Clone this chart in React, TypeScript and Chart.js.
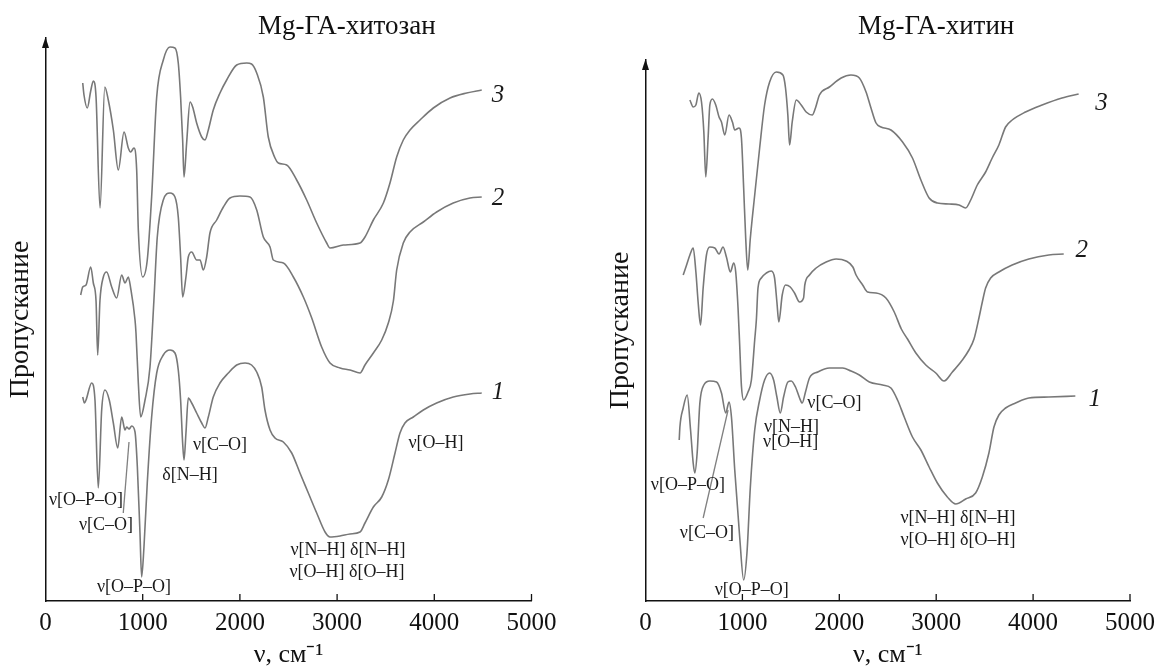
import React, { useEffect, useRef } from "react";
import { Chart, registerables } from "chart.js";

Chart.register(...registerables);

const SERIF = "'Liberation Serif', 'Times New Roman', Times, serif";

// x-axis tick values (wavenumber, cm^-1)
const xTicks = [0, 1000, 2000, 3000, 4000, 5000];

// ---------- Mg-ГА-хитозан (transmittance, arbitrary units) ----------
const chitosan1: [number, number][] = [
  [383, 204], [400, 198], [417, 201], [475, 218], [509, 201], [543, 113], [578, 191], [612, 211],
  [656, 201], [698, 178], [743, 153], [784, 184], [818, 171], [835, 174], [860, 172], [887, 175],
  [921, 169], [945, 134], [972, 68], [989, 24], [1013, 54], [1047, 118], [1092, 184], [1144, 228],
  [1212, 246], [1281, 251], [1332, 248], [1366, 231], [1390, 201], [1411, 158], [1425, 141],
  [1445, 168], [1469, 203], [1504, 198], [1555, 188], [1607, 178], [1641, 173], [1675, 184],
  [1726, 204], [1795, 218], [1881, 228], [1967, 236], [2053, 238], [2120, 236], [2173, 229],
  [2224, 214], [2258, 191], [2310, 171], [2361, 163], [2447, 159], [2533, 148], [2618, 128],
  [2704, 108], [2790, 88], [2876, 69], [2927, 64], [3030, 65], [3133, 67], [3236, 69], [3287, 78],
  [3373, 94], [3459, 104], [3527, 121], [3596, 148], [3647, 168], [3698, 178], [3784, 184],
  [3887, 191], [4024, 198], [4195, 204], [4367, 207], [4488, 208],
];

const chitosan2: [number, number][] = [
  [362, 306], [383, 314], [417, 316], [465, 334], [492, 318], [520, 300], [537, 246], [560, 300],
  [595, 324], [629, 329], [681, 314], [732, 303], [784, 326], [818, 318], [852, 324], [876, 313],
  [921, 281], [931, 268], [955, 218], [979, 184], [1024, 201], [1075, 234], [1115, 300],
  [1150, 364], [1212, 401], [1281, 408], [1332, 404], [1366, 384], [1390, 344], [1411, 304],
  [1445, 324], [1469, 344], [1504, 349], [1555, 341], [1590, 341], [1624, 331], [1658, 344],
  [1692, 368], [1761, 381], [1830, 394], [1898, 403], [2001, 405], [2104, 404], [2173, 391],
  [2241, 364], [2310, 354], [2344, 341], [2447, 338], [2550, 324], [2653, 304], [2739, 283],
  [2841, 254], [2927, 238], [3030, 233], [3133, 231], [3236, 228], [3287, 236], [3373, 248],
  [3459, 261], [3527, 278], [3579, 300], [3613, 331], [3681, 358], [3750, 369], [3887, 379],
  [4024, 389], [4195, 398], [4367, 403], [4488, 404],
];

const chitosan3: [number, number][] = [
  [383, 518], [396, 506], [430, 493], [465, 510], [492, 520], [520, 504], [561, 393], [610, 514],
  [646, 501], [698, 471], [749, 431], [808, 469], [852, 453], [876, 449], [910, 453], [938, 431],
  [955, 371], [1000, 324], [1047, 341], [1092, 404], [1144, 504], [1212, 541], [1281, 554],
  [1332, 553], [1366, 538], [1390, 504], [1411, 461], [1425, 424], [1452, 458], [1487, 499],
  [1514, 494], [1555, 478], [1607, 464], [1641, 461], [1675, 471], [1726, 491], [1795, 508],
  [1864, 521], [1967, 536], [2070, 538], [2120, 537], [2173, 528], [2241, 504], [2292, 464],
  [2361, 443], [2395, 438], [2481, 436], [2584, 421], [2687, 401], [2790, 378], [2893, 358],
  [2927, 353], [3064, 356], [3236, 358], [3287, 364], [3373, 381], [3476, 398], [3544, 418],
  [3613, 444], [3681, 461], [3750, 471], [3853, 481], [3990, 493], [4162, 503], [4333, 508],
  [4488, 511],
];

// ---------- Mg-ГА-хитин (transmittance, arbitrary units) ----------
const chitin1: [number, number][] = [
  [348, 161], [355, 174], [389, 193], [430, 206], [465, 171], [492, 138], [509, 128], [533, 148],
  [561, 198], [602, 216], [664, 220], [733, 219], [784, 208], [828, 188], [862, 199], [887, 184],
  [921, 131], [972, 64], [1013, 21], [1047, 48], [1082, 114], [1127, 171], [1178, 201], [1229, 221],
  [1281, 228], [1322, 221], [1356, 204], [1391, 188], [1425, 204], [1469, 219], [1504, 220],
  [1548, 214], [1590, 203], [1617, 198], [1651, 209], [1692, 223], [1778, 229], [1898, 233],
  [2035, 233], [2120, 230], [2207, 226], [2310, 219], [2447, 216], [2533, 213], [2601, 201],
  [2670, 184], [2755, 164], [2842, 151], [2927, 134], [3012, 118], [3115, 104], [3202, 97],
  [3304, 102], [3407, 108], [3476, 124], [3544, 148], [3596, 174], [3647, 186], [3716, 193],
  [3819, 198], [3956, 203], [4162, 204], [4436, 205],
];

const chitin2: [number, number][] = [
  [389, 326], [424, 336], [458, 346], [492, 353], [520, 329], [543, 299], [568, 276], [595, 313],
  [629, 346], [664, 354], [715, 353], [759, 347], [800, 354], [835, 344], [876, 329], [910, 338],
  [931, 329], [955, 293], [972, 256], [990, 215], [1013, 201], [1058, 209], [1093, 221],
  [1127, 261], [1144, 281], [1161, 313], [1195, 323], [1247, 328], [1298, 330], [1332, 323],
  [1356, 299], [1376, 279], [1411, 306], [1445, 316], [1494, 314], [1538, 308], [1590, 299],
  [1631, 303], [1644, 316], [1692, 326], [1761, 333], [1864, 339], [1967, 342], [2070, 340],
  [2140, 334], [2173, 326], [2241, 316], [2292, 309], [2379, 308], [2481, 303], [2567, 289],
  [2640, 272], [2704, 262], [2790, 248], [2893, 236], [2996, 228], [3081, 220], [3167, 229],
  [3270, 241], [3338, 251], [3390, 262], [3441, 283], [3476, 299], [3510, 313], [3562, 323],
  [3647, 329], [3784, 336], [3956, 342], [4162, 346], [4316, 347],
];

const chitin3: [number, number][] = [
  [458, 501], [492, 494], [520, 496], [550, 508], [578, 499], [602, 469], [622, 424], [646, 463],
  [664, 496], [691, 502], [725, 496], [759, 484], [784, 479], [818, 466], [862, 486], [897, 479],
  [921, 471], [965, 473], [990, 463], [1013, 413], [1034, 363], [1055, 331], [1082, 363],
  [1127, 406], [1178, 453], [1229, 496], [1281, 519], [1350, 529], [1418, 526], [1445, 513],
  [1469, 486], [1487, 456], [1514, 479], [1556, 501], [1607, 496], [1658, 489], [1720, 486],
  [1754, 493], [1795, 506], [1898, 514], [2019, 523], [2120, 526], [2207, 523], [2276, 509],
  [2327, 493], [2379, 478], [2430, 474], [2533, 471], [2653, 459], [2755, 443], [2842, 421],
  [2927, 403], [3012, 398], [3133, 397], [3236, 396], [3304, 393], [3356, 401], [3424, 416],
  [3510, 429], [3578, 443], [3647, 456], [3716, 474], [3784, 481], [3922, 489], [4093, 496],
  [4298, 503], [4470, 507],
];

// ---------- band assignments (anchored in data units) ----------
type Note = { text: string; x: number; y: number };

const chitosanNotes: Note[] = [
  { text: "ν[O–P–O]", x: 417, y: 101 },
  { text: "ν[C–O]", x: 622, y: 76 },
  { text: "ν[O–P–O]", x: 910, y: 14 },
  { text: "δ[N–H]", x: 1487, y: 126 },
  { text: "ν[C–O]", x: 1795, y: 156 },
  { text: "ν[O–H]", x: 4017, y: 158 },
  { text: "ν[N–H] δ[N–H]", x: 3112, y: 51 },
  { text: "ν[O–H] δ[O–H]", x: 3102, y: 29 },
];
const chitinNotes: Note[] = [
  { text: "ν[O–P–O]", x: 437, y: 116 },
  { text: "ν[C–O]", x: 633, y: 68 },
  { text: "ν[O–P–O]", x: 1096, y: 11 },
  { text: "ν[N–H]", x: 1507, y: 174 },
  { text: "ν[O–H]", x: 1497, y: 159 },
  { text: "ν[C–O]", x: 1949, y: 198 },
  { text: "ν[N–H] δ[N–H]", x: 3225, y: 83 },
  { text: "ν[O–H] δ[O–H]", x: 3225, y: 61 },
];
const chitosanLeaders: [number, number, number, number][] = [[800, 88, 859, 159]];
const chitinLeaders: [number, number, number, number][] = [[595, 83, 852, 191]];

const chitosanCurveLabels: Note[] = [
  { text: "3", x: 4655, y: 506 },
  { text: "2", x: 4655, y: 403 },
  { text: "1", x: 4655, y: 209 },
];
const chitinCurveLabels: Note[] = [
  { text: "3", x: 4707, y: 498 },
  { text: "2", x: 4501, y: 351 },
  { text: "1", x: 4635, y: 202 },
];

type PanelProps = {
  title: string;
  curves: [number, number][][];
  yMax: number;
  notes: Note[];
  leaders: [number, number, number, number][];
  curveLabels: Note[];
  left: number;
  width: number;
  padRight: number;
  padTop: number;
};

function Panel(p: PanelProps) {
  const ref = useRef<HTMLCanvasElement | null>(null);

  useEffect(() => {
    if (!ref.current) return;

    const decor = {
      id: "decor",
      afterDraw(chart: any) {
        const { ctx, chartArea } = chart;
        const xs = chart.scales.x;
        const ys = chart.scales.y;
        ctx.save();
        // panel title
        ctx.fillStyle = "#111";
        ctx.textAlign = "left";
        ctx.textBaseline = "middle";
        ctx.font = `27px ${SERIF}`;
        ctx.fillText(p.title, chartArea.left + 212.5, 27);
        // inward tick marks
        ctx.strokeStyle = "#111";
        ctx.lineWidth = 1.3;
        for (const t of xTicks) {
          if (t === 0) continue;
          const px = xs.getPixelForValue(t);
          ctx.beginPath();
          ctx.moveTo(px, chartArea.bottom);
          ctx.lineTo(px, chartArea.bottom - 7);
          ctx.stroke();
        }
        // arrow head on the y axis
        const ax = xs.getPixelForValue(0);
        ctx.fillStyle = "#111";
        ctx.beginPath();
        ctx.moveTo(ax, chartArea.top - 1);
        ctx.lineTo(ax - 3.5, chartArea.top + 10);
        ctx.lineTo(ax + 3.5, chartArea.top + 10);
        ctx.closePath();
        ctx.fill();
        // leader lines
        ctx.strokeStyle = "#808080";
        ctx.lineWidth = 1.3;
        for (const [x1, y1, x2, y2] of p.leaders) {
          ctx.beginPath();
          ctx.moveTo(xs.getPixelForValue(x1), ys.getPixelForValue(y1));
          ctx.lineTo(xs.getPixelForValue(x2), ys.getPixelForValue(y2));
          ctx.stroke();
        }
        // band notes
        ctx.fillStyle = "#1a1a1a";
        ctx.textAlign = "center";
        ctx.textBaseline = "middle";
        ctx.font = `18px ${SERIF}`;
        for (const n of p.notes) {
          ctx.fillText(n.text, xs.getPixelForValue(n.x), ys.getPixelForValue(n.y));
        }
        // curve numbers
        ctx.font = `italic 25px ${SERIF}`;
        for (const n of p.curveLabels) {
          ctx.fillText(n.text, xs.getPixelForValue(n.x), ys.getPixelForValue(n.y));
        }
        ctx.restore();
      },
    };

    const chart = new Chart(ref.current, {
      type: "line",
      data: {
        datasets: p.curves.map((c, i) => ({
          label: String(i + 1),
          data: c.map(([x, y]) => ({ x, y })),
          borderColor: "#787878",
          borderWidth: 1.6,
          pointRadius: 0,
          fill: false,
          cubicInterpolationMode: "monotone" as const,
        })),
      },
      options: {
        animation: false,
        responsive: false,
        devicePixelRatio: 1,
        layout: { padding: { left: 0, right: p.padRight, top: p.padTop, bottom: 0 } },
        plugins: {
          legend: { display: false },
          tooltip: { enabled: false },
          title: { display: false },
        },
        scales: {
          x: {
            type: "linear",
            min: 0,
            max: 5000,
            afterFit: (s: any) => {
              s.height = 67;
            },
            grid: { display: false, drawTicks: false },
            border: { display: true, color: "#111", width: 1.5 },
            ticks: {
              stepSize: 1000,
              autoSkip: false,
              maxRotation: 0,
              padding: 7,
              color: "#111",
              font: { family: SERIF, size: 25 },
              callback: (v: any) => String(v),
            },
            title: {
              display: true,
              text: "ν, см⁻¹",
              color: "#111",
              font: { family: SERIF, size: 26, lineHeight: 1.0 },
              padding: { top: 0, bottom: 0 },
            },
          },
          y: {
            type: "linear",
            min: 0,
            max: p.yMax,
            afterFit: (s: any) => {
              s.width = 45.5;
            },
            grid: { display: false, drawTicks: false },
            border: { display: true, color: "#111", width: 1.5 },
            ticks: { display: false },
            title: {
              display: true,
              text: "Пропускание",
              color: "#111",
              font: { family: SERIF, size: 28 },
              padding: { top: 4, bottom: 0 },
            },
          },
        },
      },
      plugins: [decor],
    } as any);

    return () => chart.destroy();
  }, []);

  return (
    <canvas
      ref={ref}
      width={p.width}
      height={668}
      style={{ position: "absolute", left: p.left, top: 0, width: p.width, height: 668 }}
    />
  );
}

export default function App() {
  return (
    <div
      style={{
        position: "absolute",
        left: 0,
        top: 0,
        width: 1162,
        height: 668,
        overflow: "hidden",
        background: "#fff",
      }}
    >
      <Panel
        title="Mg-ГА-хитозан"
        curves={[chitosan1, chitosan2, chitosan3]}
        yMax={563}
        notes={chitosanNotes}
        leaders={chitosanLeaders}
        curveLabels={chitosanCurveLabels}
        left={0}
        width={600}
        padRight={68.5}
        padTop={38}
      />
      <Panel
        title="Mg-ГА-хитин"
        curves={[chitin1, chitin2, chitin3]}
        yMax={541}
        notes={chitinNotes}
        leaders={chitinLeaders}
        curveLabels={chitinCurveLabels}
        left={600}
        width={562}
        padRight={30.5}
        padTop={60}
      />
    </div>
  );
}
